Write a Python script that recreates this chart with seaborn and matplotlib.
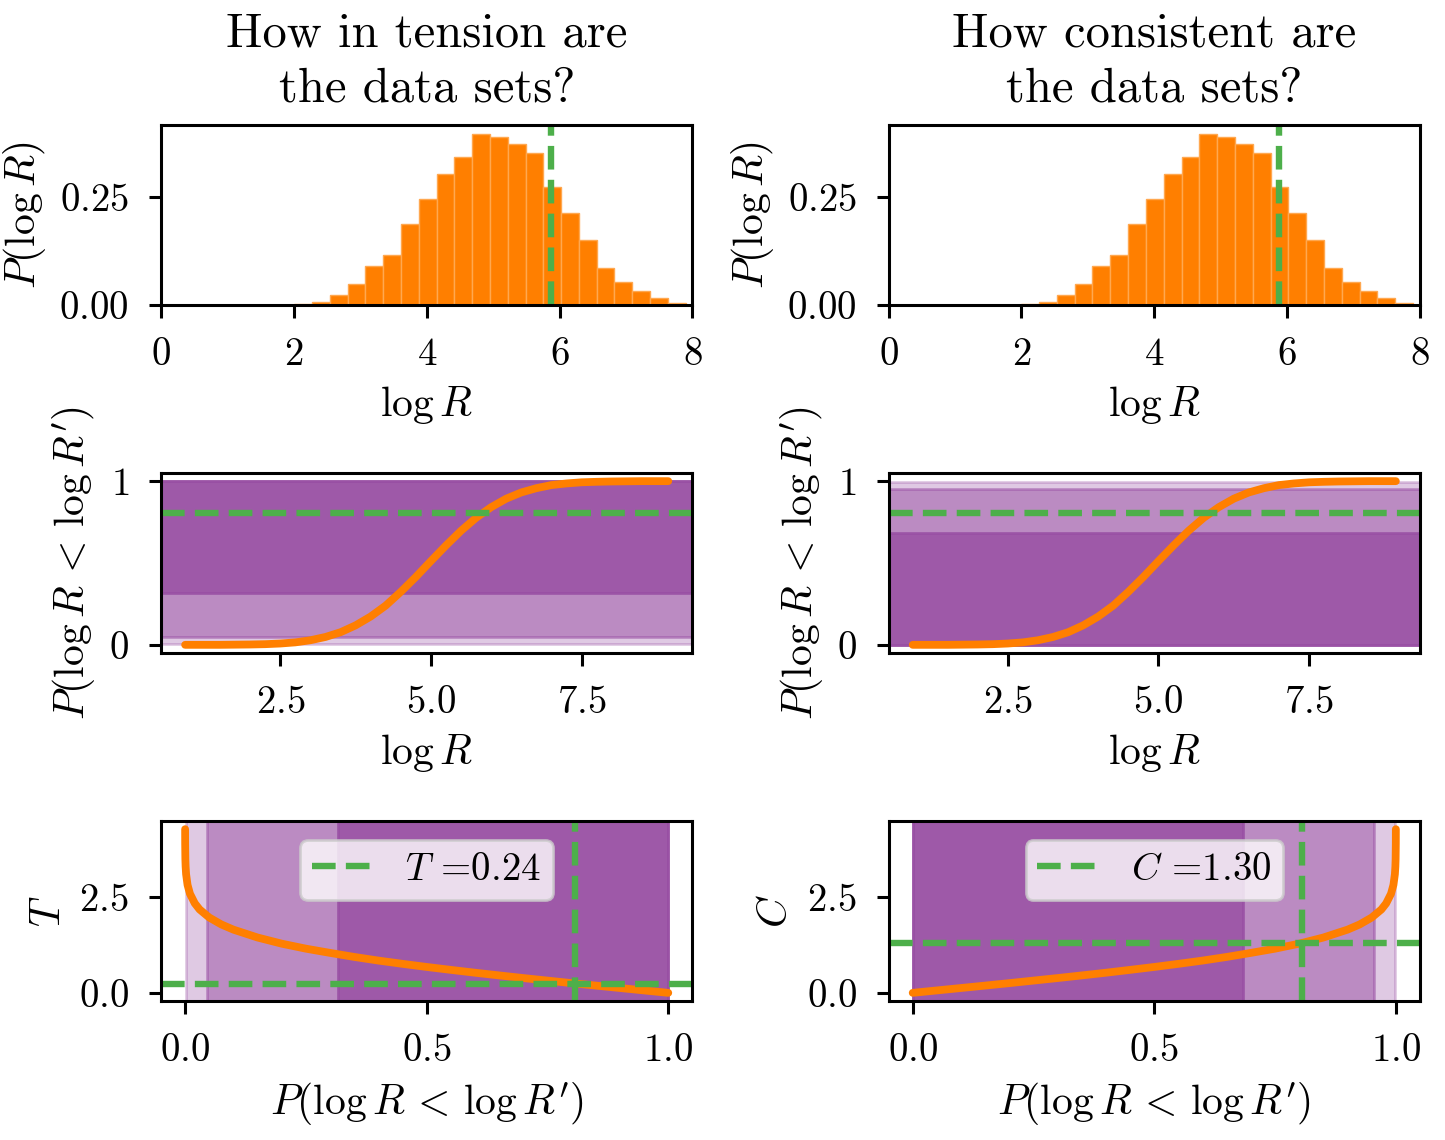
import numpy as np
import matplotlib
matplotlib.use('Agg')
import matplotlib.pyplot as plt
import seaborn as sns


# Histograma de log R (densidade por bin)
hist_edges = [2.00, 2.27, 2.54, 2.81, 3.07, 3.34, 3.61, 3.88, 4.15, 4.41, 4.68,
              4.95, 5.22, 5.49, 5.75, 6.02, 6.29, 6.56, 6.82, 7.09, 7.36, 7.63, 7.90]
hist_density = [0.003, 0.006, 0.023, 0.048, 0.091, 0.116, 0.188, 0.247, 0.305, 0.344, 0.398,
                0.391, 0.373, 0.352, 0.274, 0.213, 0.152, 0.087, 0.054, 0.033, 0.017, 0.004]
logR_obs = 5.87

# Distribuicao acumulada P(log R < log R')
cdf_logR = [0.92, 1.25, 1.50, 1.75, 2.00, 2.25, 2.50, 2.75, 3.00, 3.25, 3.50, 3.75,
            4.00, 4.25, 4.50, 4.75, 5.00, 5.25, 5.50, 5.75, 6.00, 6.25, 6.50, 6.75,
            7.00, 7.25, 7.50, 7.75, 8.00, 8.25, 8.50, 8.75, 8.94]
cdf_prob = [0.000, 0.000, 0.000, 0.001, 0.002, 0.004, 0.008, 0.015, 0.028, 0.048, 0.077, 0.119,
            0.173, 0.240, 0.324, 0.415, 0.512, 0.607, 0.697, 0.776, 0.841, 0.893, 0.931, 0.957,
            0.976, 0.986, 0.993, 0.996, 0.998, 0.999, 1.000, 1.000, 1.000]

p_obs = 0.806
T_obs = 0.24
C_obs = 1.30

# Tensao T em funcao de P
tension_p = [0.00002, 0.0001, 0.0005, 0.001, 0.002, 0.005, 0.01, 0.02, 0.03, 0.05, 0.075,
             0.10, 0.15, 0.20, 0.25, 0.30, 0.35, 0.40, 0.45, 0.50, 0.55, 0.60, 0.65,
             0.70, 0.75, 0.80, 0.85, 0.90, 0.95, 1.00]
tension_T = [4.26, 3.89, 3.48, 3.29, 3.09, 2.81, 2.58, 2.33, 2.17, 1.96, 1.78,
             1.645, 1.44, 1.28, 1.15, 1.04, 0.935, 0.84, 0.755, 0.674, 0.598, 0.524, 0.454,
             0.385, 0.319, 0.253, 0.189, 0.126, 0.063, 0.0]

# Consistencia C em funcao de P
consistency_p = [0.00, 0.05, 0.10, 0.15, 0.20, 0.25, 0.30, 0.35, 0.40, 0.45, 0.50,
                 0.55, 0.60, 0.65, 0.70, 0.75, 0.80, 0.85, 0.90, 0.925, 0.95, 0.97,
                 0.98, 0.99, 0.995, 0.998, 0.999, 0.9995, 0.9999, 0.99998]
consistency_C = [0.0, 0.063, 0.126, 0.189, 0.253, 0.319, 0.385, 0.454, 0.524, 0.598, 0.674,
                 0.755, 0.84, 0.935, 1.04, 1.15, 1.28, 1.44, 1.645, 1.78, 1.96, 2.17,
                 2.33, 2.58, 2.81, 3.09, 3.29, 3.48, 3.89, 4.26]

# Niveis de sigma e transparencias das faixas
sigma_levels = [0.9973, 0.9545, 0.6827]
band_alpha = [0.30, 0.50, 0.82]

orange = '#ff7f00'
green = '#4daf4a'
purple = '#984ea3'

sns.set_style('ticks', rc={'axes.edgecolor': 'black', 'xtick.color': 'black',
                           'ytick.color': 'black', 'text.color': 'black',
                           'axes.labelcolor': 'black'})
plt.rcParams['font.family'] = ['cmr10', 'DejaVu Serif']
plt.rcParams['mathtext.fontset'] = 'cm'
plt.rcParams['axes.formatter.use_mathtext'] = True
plt.rcParams['font.size'] = 14
plt.rcParams['axes.labelsize'] = 15
plt.rcParams['axes.linewidth'] = 1.1
plt.rcParams['xtick.major.width'] = 1.1
plt.rcParams['ytick.major.width'] = 1.1
plt.rcParams['xtick.major.size'] = 4.5
plt.rcParams['ytick.major.size'] = 4.5
plt.rcParams['xtick.major.pad'] = 7
plt.rcParams['ytick.major.pad'] = 7

fig, axes = plt.subplots(3, 2, figsize=(7.225, 5.7), dpi=200)
fig.subplots_adjust(left=0.1114, right=0.9827, top=0.8904, bottom=0.1219,
                    wspace=0.369, hspace=0.933)

centers = [(a + b) / 2 for a, b in zip(hist_edges[:-1], hist_edges[1:])]
cdf_label = r"$P(\log R \,<\, \log R')$"

for col in range(2):
    # Linha de cima: histograma
    ax = axes[0, col]
    sns.histplot(x=centers, weights=hist_density, bins=hist_edges, ax=ax,
                 color=orange, alpha=1, edgecolor='#ffa850', linewidth=0.5)
    ax.axvline(logR_obs, color=green, ls='--', lw=2.3)
    ax.set_xlim(0, 8)
    ax.set_xticks([0, 2, 4, 6, 8])
    ax.set_yticks([0, 0.25])
    ax.set_xlabel(r'$\log R$')
    ax.set_ylabel(r'$P(\log R)$')

    # Linha do meio: distribuicao acumulada
    ax = axes[1, col]
    for level, a in zip(sigma_levels, band_alpha):
        if col == 0:
            ax.axhspan(1 - level, 1, color=purple, alpha=a)
        else:
            ax.axhspan(0, level, color=purple, alpha=a)
    sns.lineplot(x=cdf_logR, y=cdf_prob, ax=ax, color=orange, lw=2.8)
    ax.axhline(p_obs, color=green, ls='--', lw=2.3)
    ax.set_xticks([2.5, 5.0, 7.5])
    ax.set_yticks([0, 1])
    ax.set_xlabel(r'$\log R$')
    ax.set_ylabel(cdf_label)

    # Linha de baixo: T e C
    ax = axes[2, col]
    for level, a in zip(sigma_levels, band_alpha):
        if col == 0:
            ax.axvspan(1 - level, 1, color=purple, alpha=a)
        else:
            ax.axvspan(0, level, color=purple, alpha=a)
    if col == 0:
        sns.lineplot(x=tension_p, y=tension_T, ax=ax, color=orange, lw=2.8)
        ax.axhline(T_obs, color=green, ls='--', lw=2.3, label=r'$T$ =%.2f' % T_obs)
        ax.set_ylabel(r'$T$')
    else:
        sns.lineplot(x=consistency_p, y=consistency_C, ax=ax, color=orange, lw=2.8)
        ax.axhline(C_obs, color=green, ls='--', lw=2.3, label=r'$C$ =%.2f' % C_obs)
        ax.set_ylabel(r'$C$')
    ax.axvline(p_obs, color=green, ls='--', lw=2.3)
    ax.legend(loc='upper center', fontsize=14, handlelength=1.6, borderpad=0.3)
    ax.set_xticks([0.0, 0.5, 1.0])
    ax.set_yticks([0.0, 2.5])
    ax.set_xlabel(cdf_label)

axes[0, 0].set_title('How in tension are\nthe data sets?', fontsize=17.5,
                     linespacing=1.3, pad=8.5)
axes[0, 1].set_title('How consistent are\nthe data sets?', fontsize=17.5,
                     linespacing=1.3, pad=8.5)

plt.savefig('out.png', dpi=200)
